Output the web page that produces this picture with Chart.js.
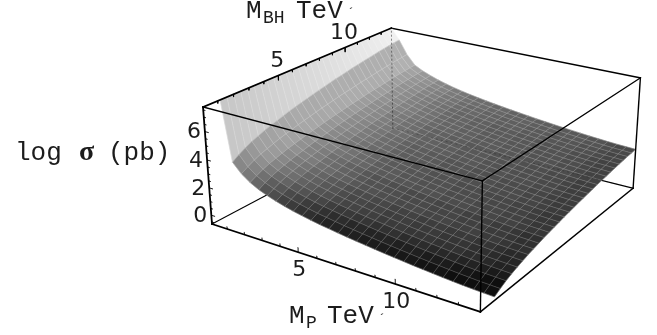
<!DOCTYPE html>
<html>
<head>
<meta charset="utf-8">
<style>html,body{margin:0;padding:0;background:#fff}</style>
<script src="https://cdn.jsdelivr.net/npm/chart.js@4/dist/chart.umd.min.js"></script>
</head>
<body>
<canvas id="chart" width="657" height="335"></canvas>
<script>
// grid of the surface
var mP = [0.10,0.58,1.06,1.54,2.02,2.50,2.98,3.46,3.93,4.41,4.89,5.37,5.85,6.33,6.81,7.29,7.77,8.25,8.73,9.21,9.69,10.17,10.64,11.12,11.60,12.08,12.56,13.04,13.52,14.00];
var mBH = [1.15,1.59,2.03,2.47,2.91,3.35,3.79,4.23,4.67,5.11,5.55,5.99,6.43,6.87,7.31,7.75,8.19,8.63,9.07,9.51,9.95,10.39,10.83,11.27,11.71,12.15,12.59,13.02,13.46,13.90];
// log sigma, one row per mP, one column per mBH
var logSigma = [
[7.70,7.70,7.70,7.70,7.70,7.70,7.70,7.70,7.70,7.70,7.70,7.70,7.70,7.70,7.70,7.70,7.70,7.70,7.70,7.70,7.70,7.70,7.70,7.70,7.70,7.70,7.70,7.70,7.70,7.70],
[3.45,3.76,4.03,4.26,4.44,4.62,4.78,4.91,5.05,5.19,5.30,5.41,5.52,5.63,5.73,5.83,5.93,6.02,6.10,6.19,6.28,6.35,6.43,6.50,6.57,6.65,6.71,6.77,6.82,6.87],
[2.78,3.06,3.30,3.50,3.66,3.81,3.96,4.08,4.20,4.32,4.42,4.52,4.62,4.72,4.80,4.89,4.98,5.06,5.13,5.21,5.29,5.35,5.42,5.49,5.55,5.62,5.67,5.73,5.77,5.82],
[2.33,2.58,2.80,2.98,3.13,3.27,3.40,3.51,3.62,3.73,3.82,3.91,4.00,4.09,4.17,4.25,4.33,4.40,4.47,4.54,4.61,4.67,4.73,4.79,4.85,4.91,4.96,5.01,5.05,5.09],
[2.00,2.25,2.47,2.65,2.80,2.94,3.07,3.18,3.29,3.40,3.49,3.58,3.67,3.76,3.84,3.92,4.00,4.07,4.14,4.21,4.28,4.34,4.40,4.46,4.52,4.58,4.63,4.68,4.72,4.76],
[1.75,2.00,2.22,2.40,2.55,2.69,2.82,2.93,3.04,3.15,3.24,3.33,3.42,3.51,3.59,3.67,3.75,3.82,3.89,3.96,4.03,4.09,4.15,4.21,4.27,4.33,4.38,4.43,4.47,4.51],
[1.53,1.78,2.00,2.18,2.33,2.47,2.60,2.71,2.82,2.93,3.02,3.11,3.20,3.29,3.37,3.45,3.53,3.60,3.67,3.74,3.81,3.87,3.93,3.99,4.05,4.11,4.16,4.21,4.25,4.29],
[1.35,1.60,1.82,2.00,2.15,2.29,2.42,2.53,2.64,2.75,2.84,2.93,3.02,3.11,3.19,3.27,3.35,3.42,3.49,3.56,3.63,3.69,3.75,3.81,3.87,3.93,3.98,4.03,4.07,4.11],
[1.19,1.44,1.66,1.84,1.99,2.13,2.26,2.37,2.48,2.59,2.68,2.77,2.86,2.95,3.03,3.11,3.19,3.26,3.33,3.40,3.47,3.53,3.59,3.65,3.71,3.77,3.82,3.87,3.91,3.95],
[1.05,1.30,1.52,1.70,1.85,1.99,2.12,2.23,2.34,2.45,2.54,2.63,2.72,2.81,2.89,2.97,3.05,3.12,3.19,3.26,3.33,3.39,3.45,3.51,3.57,3.63,3.68,3.73,3.77,3.81],
[0.92,1.17,1.39,1.57,1.72,1.86,1.99,2.10,2.21,2.32,2.41,2.50,2.59,2.68,2.76,2.84,2.92,2.99,3.06,3.13,3.20,3.26,3.32,3.38,3.44,3.50,3.55,3.60,3.64,3.68],
[0.81,1.06,1.28,1.46,1.61,1.75,1.88,1.99,2.10,2.21,2.30,2.39,2.48,2.57,2.65,2.73,2.81,2.88,2.95,3.02,3.09,3.15,3.21,3.27,3.33,3.39,3.44,3.49,3.53,3.57],
[0.71,0.96,1.18,1.36,1.51,1.65,1.78,1.89,2.00,2.11,2.20,2.29,2.38,2.47,2.55,2.63,2.71,2.78,2.85,2.92,2.99,3.05,3.11,3.17,3.23,3.29,3.34,3.39,3.43,3.47],
[0.61,0.86,1.08,1.26,1.41,1.55,1.68,1.79,1.90,2.01,2.10,2.19,2.28,2.37,2.45,2.53,2.61,2.68,2.75,2.82,2.89,2.95,3.01,3.07,3.13,3.19,3.24,3.29,3.33,3.37],
[0.52,0.77,0.99,1.17,1.32,1.46,1.59,1.70,1.81,1.92,2.01,2.10,2.19,2.28,2.36,2.44,2.52,2.59,2.66,2.73,2.80,2.86,2.92,2.98,3.04,3.10,3.15,3.20,3.24,3.28],
[0.43,0.68,0.90,1.08,1.23,1.37,1.50,1.61,1.72,1.83,1.92,2.01,2.10,2.19,2.27,2.35,2.43,2.50,2.57,2.64,2.71,2.77,2.83,2.89,2.95,3.01,3.06,3.11,3.15,3.19],
[0.35,0.60,0.82,1.00,1.15,1.29,1.42,1.53,1.64,1.75,1.84,1.93,2.02,2.11,2.19,2.27,2.35,2.42,2.49,2.56,2.63,2.69,2.75,2.81,2.87,2.93,2.98,3.03,3.07,3.11],
[0.27,0.52,0.74,0.92,1.07,1.21,1.34,1.45,1.56,1.67,1.76,1.85,1.94,2.03,2.11,2.19,2.27,2.34,2.41,2.48,2.55,2.61,2.67,2.73,2.79,2.85,2.90,2.95,2.99,3.03],
[0.19,0.44,0.66,0.84,0.99,1.13,1.26,1.37,1.48,1.59,1.68,1.77,1.86,1.95,2.03,2.11,2.19,2.26,2.33,2.40,2.47,2.53,2.59,2.65,2.71,2.77,2.82,2.87,2.91,2.95],
[0.12,0.37,0.59,0.77,0.92,1.06,1.19,1.30,1.41,1.52,1.61,1.70,1.79,1.88,1.96,2.04,2.12,2.19,2.26,2.33,2.40,2.46,2.52,2.58,2.64,2.70,2.75,2.80,2.84,2.88],
[0.05,0.30,0.52,0.70,0.85,0.99,1.12,1.23,1.34,1.45,1.54,1.63,1.72,1.81,1.89,1.97,2.05,2.12,2.19,2.26,2.33,2.39,2.45,2.51,2.57,2.63,2.68,2.73,2.77,2.81],
[-0.02,0.23,0.45,0.63,0.78,0.92,1.05,1.16,1.27,1.38,1.47,1.56,1.65,1.74,1.82,1.90,1.98,2.05,2.12,2.19,2.26,2.32,2.38,2.44,2.50,2.56,2.61,2.66,2.70,2.74],
[-0.08,0.17,0.39,0.57,0.72,0.86,0.99,1.10,1.21,1.32,1.41,1.50,1.59,1.68,1.76,1.84,1.92,1.99,2.06,2.13,2.20,2.26,2.32,2.38,2.44,2.50,2.55,2.60,2.64,2.68],
[-0.14,0.11,0.33,0.51,0.66,0.80,0.93,1.04,1.15,1.26,1.35,1.44,1.53,1.62,1.70,1.78,1.86,1.93,2.00,2.07,2.14,2.20,2.26,2.32,2.38,2.44,2.49,2.54,2.58,2.62],
[-0.20,0.05,0.27,0.45,0.60,0.74,0.87,0.98,1.09,1.20,1.29,1.38,1.47,1.56,1.64,1.72,1.80,1.87,1.94,2.01,2.08,2.14,2.20,2.26,2.32,2.38,2.43,2.48,2.52,2.56],
[-0.25,0.00,0.22,0.40,0.55,0.69,0.82,0.93,1.04,1.15,1.24,1.33,1.42,1.51,1.59,1.67,1.75,1.82,1.89,1.96,2.03,2.09,2.15,2.21,2.27,2.33,2.38,2.43,2.47,2.51],
[-0.30,-0.05,0.17,0.35,0.50,0.64,0.77,0.88,0.99,1.10,1.19,1.28,1.37,1.46,1.54,1.62,1.70,1.77,1.84,1.91,1.98,2.04,2.10,2.16,2.22,2.28,2.33,2.38,2.42,2.46],
[-0.34,-0.09,0.13,0.31,0.46,0.60,0.73,0.84,0.95,1.06,1.15,1.24,1.33,1.42,1.50,1.58,1.66,1.73,1.80,1.87,1.94,2.00,2.06,2.12,2.18,2.24,2.29,2.34,2.38,2.42],
[-0.37,-0.12,0.10,0.28,0.43,0.57,0.70,0.81,0.92,1.03,1.12,1.21,1.30,1.39,1.47,1.55,1.63,1.70,1.77,1.84,1.91,1.97,2.03,2.09,2.15,2.21,2.26,2.31,2.35,2.39],
[-0.40,-0.15,0.07,0.25,0.40,0.54,0.67,0.78,0.89,1.00,1.09,1.18,1.27,1.36,1.44,1.52,1.60,1.67,1.74,1.81,1.88,1.94,2.00,2.06,2.12,2.18,2.23,2.28,2.32,2.36]
];
// axis ranges and ticks
var mPRange = [0.1, 14], mBHRange = [0.1, 13.9], logRange = [-0.65, 7.7];
var massMajor = [5, 10];
var massMinor = [1,2,3,4,6,7,8,9,11,12,13];
var logMajor = [0, 2, 4, 6];
var logMinor = [-0.5,0.5,1,1.5,2.5,3,3.5,4.5,5,5.5,6.5,7,7.5];

// camera of the box, unit cube to view plane
var cam = [
  [206.4, 259, -16.8, 212],
  [47.7, -70.3, -121.1, 224],
  [-0.129, 0.199, -0.03845, 1]
];
function cube(u, v, w) {
  var p = cam.map(function (r) { return r[0]*u + r[1]*v + r[2]*w + r[3]; });
  return {x: p[0]/p[2], y: p[1]/p[2]};
}
function U(m) { return (m - mPRange[0]) / (mPRange[1] - mPRange[0]); }
function V(m) { return (m - mBHRange[0]) / (mBHRange[1] - mBHRange[0]); }
function W(s) { return (s - logRange[0]) / (logRange[1] - logRange[0]); }

var sets = [];
function addLine(pts, color, width, order, dash) {
  sets.push({data: pts, showLine: true, fill: false, borderColor: color, borderWidth: width,
    borderDash: dash || [], pointRadius: 0, order: order, borderCapStyle: 'square', clip: false});
}
function box(a, b) { return [cube(a[0],a[1],a[2]), cube(b[0],b[1],b[2])]; }

// back edges, behind the surface
addLine(box([0,0,0],[0,1,0]), '#000', 1.1, 5000);
addLine(box([0,1,0],[1,1,0]), '#000', 1.1, 5000);
addLine(box([0,1,1],[1,1,1]), '#000', 1.4, 5000);

// one flat cell per grid square, far cells first
var light = [0.66, 0.32, 0.27];
for (var i = 0; i < mP.length - 1; i++) {
  for (var j = mBH.length - 2; j >= 0; j--) {
    var z00 = W(logSigma[i][j]), z01 = W(logSigma[i][j+1]), z10 = W(logSigma[i+1][j]), z11 = W(logSigma[i+1][j+1]);
    var du = U(mP[i+1]) - U(mP[i]), dv = V(mBH[j+1]) - V(mBH[j]);
    var zu = ((z10 + z11) - (z00 + z01)) / 2 / du;
    var zv = ((z01 + z11) - (z00 + z10)) / 2 / dv;
    var len = Math.sqrt(zu*zu + zv*zv + 1);
    var g = (-zu*light[0] - zv*light[1] + light[2]) / len;
    // first row is cut off by the top of the box, its slope says nothing
    if (i === 0) g = 0.78 + 0.16 * j / (mBH.length - 2);
    g = Math.max(0.06, Math.min(0.95, g));
    var c = Math.round(g * 255);
    var col = 'rgb(' + c + ',' + c + ',' + c + ')';
    sets.push({
      data: [cube(U(mP[i]),V(mBH[j]),z00), cube(U(mP[i+1]),V(mBH[j]),z10), cube(U(mP[i+1]),V(mBH[j+1]),z11), cube(U(mP[i]),V(mBH[j+1]),z01), cube(U(mP[i]),V(mBH[j]),z00)],
      showLine: true, fill: 'shape', backgroundColor: col, borderColor: col, borderWidth: 0.6,
      pointRadius: 0, order: 4000 - i*40 - (mBH.length - j), clip: false
    });
  }
}
// mesh
var meshCol = 'rgba(255,255,255,0.32)';
mP.forEach(function (m, i) {
  addLine(mBH.map(function (b, j) { return cube(U(m), V(b), W(logSigma[i][j])); }), meshCol, 0.6, 30);
});
mBH.forEach(function (b, j) {
  addLine(mP.map(function (m, i) { return cube(U(m), V(b), W(logSigma[i][j])); }), meshCol, 0.6, 30);
});
// hidden edges show through faintly
addLine(box([0,1,0],[0,1,1]), 'rgba(0,0,0,0.45)', 1, 20, [1,3]);
addLine(box([0,1,0],[1,1,0]), 'rgba(0,0,0,0.22)', 1, 20, [1,4]);

// front edges
addLine(box([0,0,0],[1,0,0]), '#000', 1.8, 10);
addLine(box([0,0,0],[0,0,1]), '#000', 1.8, 10);
addLine(box([1,0,0],[1,1,0]), '#000', 1.5, 10);
addLine(box([1,1,0],[1,1,1]), '#000', 1.4, 10);
addLine(box([0,0,1],[1,0,1]), '#000', 1.4, 10);
addLine(box([1,0,0],[1,0,1]), '#000', 1.4, 10);
addLine(box([1,0,1],[1,1,1]), '#000', 1.3, 10);
addLine(box([0,0,1],[0,1,1]), '#000', 1.7, 10);

// ticks
function massTicks(list, h) {
  list.forEach(function (m) {
    addLine(box([U(m),0,0],[U(m),0,h]), '#000', 0.9, 11);
    addLine(box([0,V(m),1],[0,V(m),1-h]), '#000', 0.9, 11);
  });
}
massTicks(massMajor, 0.04);
massTicks(massMinor, 0.02);
logMajor.forEach(function (s) { addLine(box([0,0,W(s)],[0.014,0,W(s)]), '#000', 0.9, 11); });
logMinor.forEach(function (s) { addLine(box([0,0,W(s)],[0.007,0,W(s)]), '#000', 0.9, 11); });

// text is drawn in view plane units through the same scales
var labels = {
  id: 'labels',
  afterDraw: function (chart) {
    var ctx = chart.ctx, sx = chart.scales.x, sy = chart.scales.y;
    function put(s, x, y, font, align, base) {
      ctx.font = font; ctx.fillStyle = '#1c1c1c';
      ctx.textAlign = align || 'left'; ctx.textBaseline = base || 'alphabetic';
      ctx.fillText(s, sx.getPixelForValue(x), sy.getPixelForValue(y));
    }
    var tickFont = '22px "DejaVu Sans"', mono = '26px "Liberation Mono"', sub = '18px "Liberation Mono"';
    massMajor.forEach(function (m) {
      var a = cube(U(m),0,0), b = cube(0,V(m),1);
      put(String(m), a.x + 1, a.y + 18, tickFont, 'center', 'middle');
      put(String(m), b.x - 1, b.y - 14, tickFont, 'center', 'middle');
    });
    logMajor.forEach(function (s) {
      var p = cube(0,0,W(s));
      put(String(s), p.x - 4, p.y + 1, tickFont, 'right', 'middle');
    });
    put('M', 246, 18, mono); put('BH', 263, 23, sub); put('TeV', 296, 18, mono);
    put('´', 347, 17, '13px "Liberation Mono"');
    put('M', 289, 323, mono); put('P', 306, 328, sub); put('TeV', 327, 323, mono);
    put('´', 378, 323, '13px "Liberation Mono"');
    put('log', 15, 160, mono);
    put('σ', 79, 160, 'bold 28px "Liberation Serif"');
    put('(pb)', 108, 160, mono);
  }
};

new Chart(document.getElementById('chart').getContext('2d'), {
  type: 'scatter',
  data: {datasets: sets},
  options: {
    responsive: false,
    animation: false,
    events: [],
    layout: {padding: 0},
    plugins: {legend: {display: false}, tooltip: {enabled: false}},
    scales: {
      x: {type: 'linear', min: 0, max: 657, display: false},
      y: {type: 'linear', min: 0, max: 335, reverse: true, display: false}
    }
  },
  plugins: [labels]
});
</script>
</body>
</html>
